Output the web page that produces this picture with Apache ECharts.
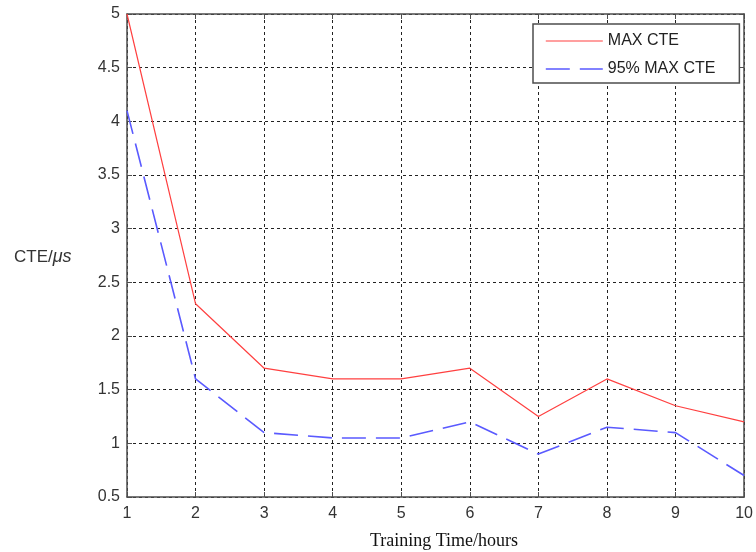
<!DOCTYPE html>
<html>
<head>
<meta charset="utf-8">
<script src="https://cdn.jsdelivr.net/npm/echarts@6/dist/echarts.min.js"></script>
<style>
  html, body { margin: 0; padding: 0; background: #fff; }
  #chart { width: 756px; height: 552px; }
</style>
</head>
<body>
<div id="chart"></div>
<script>
// Training time (hours) on the x axis
const hours = [1, 2, 3, 4, 5, 6, 7, 8, 9, 10];
// Maximum CTE in microseconds
const maxCte = [5.0, 2.3, 1.7, 1.6, 1.6, 1.7, 1.25, 1.6, 1.35, 1.2];
// 95% maximum CTE in microseconds
const maxCte95 = [4.1, 1.6, 1.1, 1.05, 1.05, 1.2, 0.9, 1.15, 1.1, 0.7];
const seriesNames = ['MAX CTE', '95% MAX CTE'];

const pairs = (xs, ys) => xs.map((x, i) => [x, ys[i]]);

const chart = echarts.init(document.getElementById('chart'), null, { renderer: 'canvas' });

const frameColor = '#4d4d4d';
const redLine = { color: '#ff4040', width: 1.2, type: 'solid' };
const blueLine = { color: '#5a5aff', width: 1.6, type: [24, 10] };
const gridLine = { show: true, lineStyle: { color: '#222', type: [3, 3], width: 1 } };
const tickFont = { color: '#333', fontSize: 16, fontFamily: 'Liberation Sans, Arial, sans-serif' };

chart.setOption({
  animation: false,
  backgroundColor: '#fff',
  grid: { left: 127, right: 10, top: 14, bottom: 55, containLabel: false },
  xAxis: [
    {
      type: 'value', min: 1, max: 10, interval: 1, position: 'bottom',
      axisLine: { show: true, lineStyle: { color: frameColor, width: 1.5 } },
      axisTick: { show: true, inside: true, length: 5, lineStyle: { color: frameColor } },
      axisLabel: Object.assign({ margin: 9 }, tickFont),
      splitLine: gridLine
    },
    {
      type: 'value', min: 1, max: 10, interval: 1, position: 'top',
      axisLine: { show: true, lineStyle: { color: frameColor, width: 1.5 } },
      axisTick: { show: true, inside: true, length: 5, lineStyle: { color: frameColor } },
      axisLabel: { show: false },
      splitLine: { show: false }
    }
  ],
  yAxis: [
    {
      type: 'value', min: 0.5, max: 5, interval: 0.5, position: 'left',
      axisLine: { show: true, lineStyle: { color: frameColor, width: 1.5 } },
      axisTick: { show: true, inside: true, length: 5, lineStyle: { color: frameColor } },
      axisLabel: Object.assign({ margin: 7 }, tickFont),
      splitLine: gridLine
    },
    {
      type: 'value', min: 0.5, max: 5, interval: 0.5, position: 'right',
      axisLine: { show: true, lineStyle: { color: frameColor, width: 1.5 } },
      axisTick: { show: true, inside: true, length: 5, lineStyle: { color: frameColor } },
      axisLabel: { show: false },
      splitLine: { show: false }
    }
  ],
  legend: {
    data: [
      { name: seriesNames[0], lineStyle: redLine, itemStyle: { opacity: 0 } },
      { name: seriesNames[1], lineStyle: blueLine, itemStyle: { opacity: 0 } }
    ],
    orient: 'vertical',
    left: 533, top: 24,
    itemWidth: 57, itemHeight: 14, itemGap: 12,
    padding: [9, 24, 6, 12],
    backgroundColor: '#fff',
    borderColor: frameColor, borderWidth: 1.5,
    textStyle: { color: '#222', fontSize: 16, fontFamily: 'Liberation Sans, Arial, sans-serif' }
  },
  series: [
    {
      name: seriesNames[0], type: 'line', symbol: 'none',
      data: pairs(hours, maxCte),
      lineStyle: redLine,
      itemStyle: { color: redLine.color }, z: 3
    },
    {
      name: seriesNames[1], type: 'line', symbol: 'none',
      data: pairs(hours, maxCte95),
      lineStyle: blueLine,
      itemStyle: { color: blueLine.color }, z: 3
    }
  ],
  graphic: [
    {
      type: 'text', left: 14, top: 248,
      style: {
        text: '{a|CTE/}{b|μs}',
        rich: {
          a: { fontSize: 17, fill: '#333', fontFamily: 'Liberation Sans, Arial, sans-serif' },
          b: { fontSize: 18, fill: '#333', fontStyle: 'italic', fontFamily: 'Liberation Sans, Arial, sans-serif' }
        }
      }
    },
    {
      type: 'text', x: 444, y: 541,
      style: {
        text: 'Training Time/hours',
        fontSize: 18, fill: '#111',
        fontFamily: 'Liberation Serif, Times New Roman, serif',
        align: 'center', verticalAlign: 'middle'
      }
    }
  ]
});
</script>
</body>
</html>
